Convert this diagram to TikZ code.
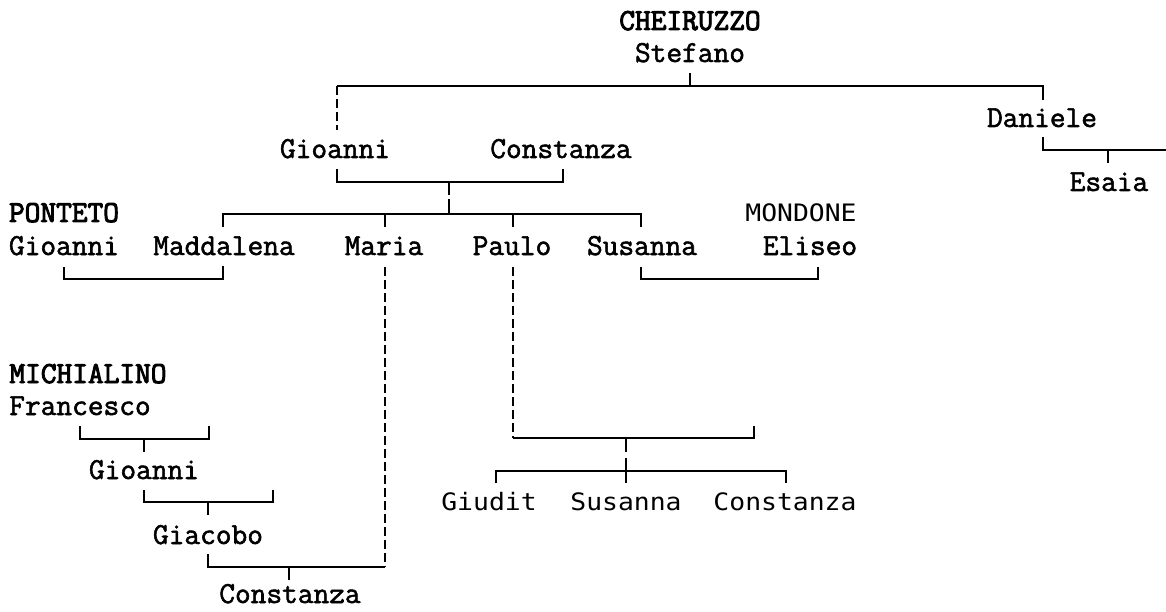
\documentclass[tikz,border=0pt]{standalone}
\usepackage{fontspec}
\newfontfamily\serifmono[FakeBold=1.8]{Latin Modern Mono}
\newfontfamily\serifmonob[FakeBold=3.2]{Latin Modern Mono}
\newfontfamily\sansmonof[FakeStretch=1.1]{DejaVu Sans Mono}
\begin{document}
\begin{tikzpicture}[x=1pt,y=-1pt,
  person/.style={font=\serifmono\fontsize{30.5}{30.5}\selectfont, anchor=base, inner sep=0pt},
  family/.style={font=\serifmonob\fontsize{30.5}{30.5}\selectfont, anchor=base, inner sep=0pt},
  sperson/.style={font=\sansmonof\fontsize{24}{24}\selectfont, anchor=base, inner sep=0pt},
  link/.style={line width=2pt, line cap=butt, line join=miter},
  dline/.style={link, dash pattern=on 9pt off 4pt}]
\useasboundingbox (0,0) rectangle (1166,612);
% names
\node[family] (che) at (690,30) {CHEIRUZZO};
\node[person] (stef) at (690,62) {Stefano};
\node[person] (dan) at (1042,127) {Daniele};
\node[person] (esa) at (1109,191) {Esaia};
\node[person] (gio1) at (335,158) {Gioanni};
\node[person] (con1) at (561,158) {Constanza};
\node[family] (pon) at (64,222) {PONTETO};
\node[person] (gio2) at (64,255) {Gioanni};
\node[person] (mad) at (224,255) {Maddalena};
\node[person] (mar) at (384,255) {Maria};
\node[person] (pau) at (512,255) {Paulo};
\node[person] (sus1) at (642,255) {Susanna};
\node[sperson] (mon) at (801,222) {MONDONE};
\node[person] (eli) at (810,255) {Eliseo};
\node[family] (mic) at (88,383) {MICHIALINO};
\node[person] (fra) at (80,415) {Francesco};
\node[person] (gio3) at (144,479) {Gioanni};
\node[person] (gia) at (208,544) {Giacobo};
\node[person] (con2) at (290,603) {Constanza};
\node[sperson] (giu) at (489,510) {Giudit};
\node[sperson] (sus2) at (626,510) {Susanna};
\node[sperson] (con3) at (785,510) {Constanza};
% Stefano's children
\coordinate (sA) at (690,73);
\coordinate (sB) at (690,86);
\coordinate (sL) at (337,86);
\coordinate (sR) at (1043,86);
\coordinate (sLd) at (337,130);
\coordinate (sRd) at (1043,100);
\draw[link] (sA) -- (sB);
\draw[link] (sL) -- (sR) -- (sRd);
\draw[dline] (sL) -- (sLd);
% Daniele -> Esaia
\coordinate (dA) at (1043,137);
\coordinate (dB) at (1043,150);
\coordinate (dC) at (1166,150);
\coordinate (eA) at (1108,150);
\coordinate (eB) at (1108,163);
\draw[link] (dA) -- (dB) -- (dC);
\draw[link] (eA) -- (eB);
% Gioanni + Constanza
\coordinate (gA) at (337,169);
\coordinate (gB) at (337,182);
\coordinate (gC) at (563,182);
\coordinate (gD) at (563,169);
\coordinate (gE) at (449,182);
\coordinate (gF) at (449,195);
\coordinate (gG) at (449,199);
\coordinate (gH) at (449,214);
\draw[link] (gA) -- (gB) -- (gC) -- (gD);
\draw[link] (gE) -- (gF);
\draw[link] (gG) -- (gH);
% their children
\coordinate (cL) at (223,214);
\coordinate (cR) at (641,214);
\coordinate (cLd) at (223,227);
\coordinate (cRd) at (641,227);
\coordinate (cM1) at (385,214);
\coordinate (cM1d) at (385,227);
\coordinate (cP1) at (513,214);
\coordinate (cP1d) at (513,227);
\draw[link] (cLd) -- (cL) -- (cR) -- (cRd);
\draw[link] (cM1) -- (cM1d);
\draw[link] (cP1) -- (cP1d);
% Gioanni + Maddalena
\coordinate (pA) at (64,267);
\coordinate (pB) at (64,279);
\coordinate (pC) at (223,279);
\coordinate (pD) at (223,266);
\draw[link] (pA) -- (pB) -- (pC) -- (pD);
% Susanna + Eliseo
\coordinate (mA) at (641,267);
\coordinate (mB) at (641,279);
\coordinate (mC) at (818,279);
\coordinate (mD) at (818,267);
\draw[link] (mA) -- (mB) -- (mC) -- (mD);
% Maria dashed
\coordinate (maA) at (385,267);
\coordinate (maB) at (385,567);
\draw[dline] (maA) -- (maB);
% Paulo dashed + couple
\coordinate (paA) at (513,267);
\coordinate (paB) at (513,438);
\coordinate (paC) at (754,438);
\coordinate (paD) at (754,426);
\coordinate (paE) at (626,438);
\coordinate (paF) at (626,452);
\draw[dline] (paA) -- (paB);
\draw[link] (paB) -- (paC) -- (paD);
\draw[link] (paE) -- (paF);
% Paulo's children
\coordinate (kA) at (626,458);
\coordinate (kB) at (626,471);
\coordinate (kL) at (496,471);
\coordinate (kLd) at (496,483);
\coordinate (kR) at (786,471);
\coordinate (kRd) at (786,483);
\coordinate (kMd) at (626,483);
\draw[link] (kA) -- (kMd);
\draw[link] (kLd) -- (kL) -- (kR) -- (kRd);
% Michialino line
\coordinate (fA) at (80,426);
\coordinate (fB) at (80,439);
\coordinate (fC) at (209,439);
\coordinate (fD) at (209,426);
\coordinate (fE) at (144,439);
\coordinate (fF) at (144,452);
\draw[link] (fA) -- (fB) -- (fC) -- (fD);
\draw[link] (fE) -- (fF);
\coordinate (hA) at (144,490);
\coordinate (hB) at (144,502);
\coordinate (hC) at (273,502);
\coordinate (hD) at (273,490);
\coordinate (hE) at (208,502);
\coordinate (hF) at (208,515);
\draw[link] (hA) -- (hB) -- (hC) -- (hD);
\draw[link] (hE) -- (hF);
\coordinate (jA) at (208,554);
\coordinate (jB) at (208,567);
\coordinate (jE) at (289,567);
\coordinate (jF) at (289,580);
\draw[link] (jA) -- (jB) -- (maB);
\draw[link] (jE) -- (jF);
\end{tikzpicture}
\end{document}
